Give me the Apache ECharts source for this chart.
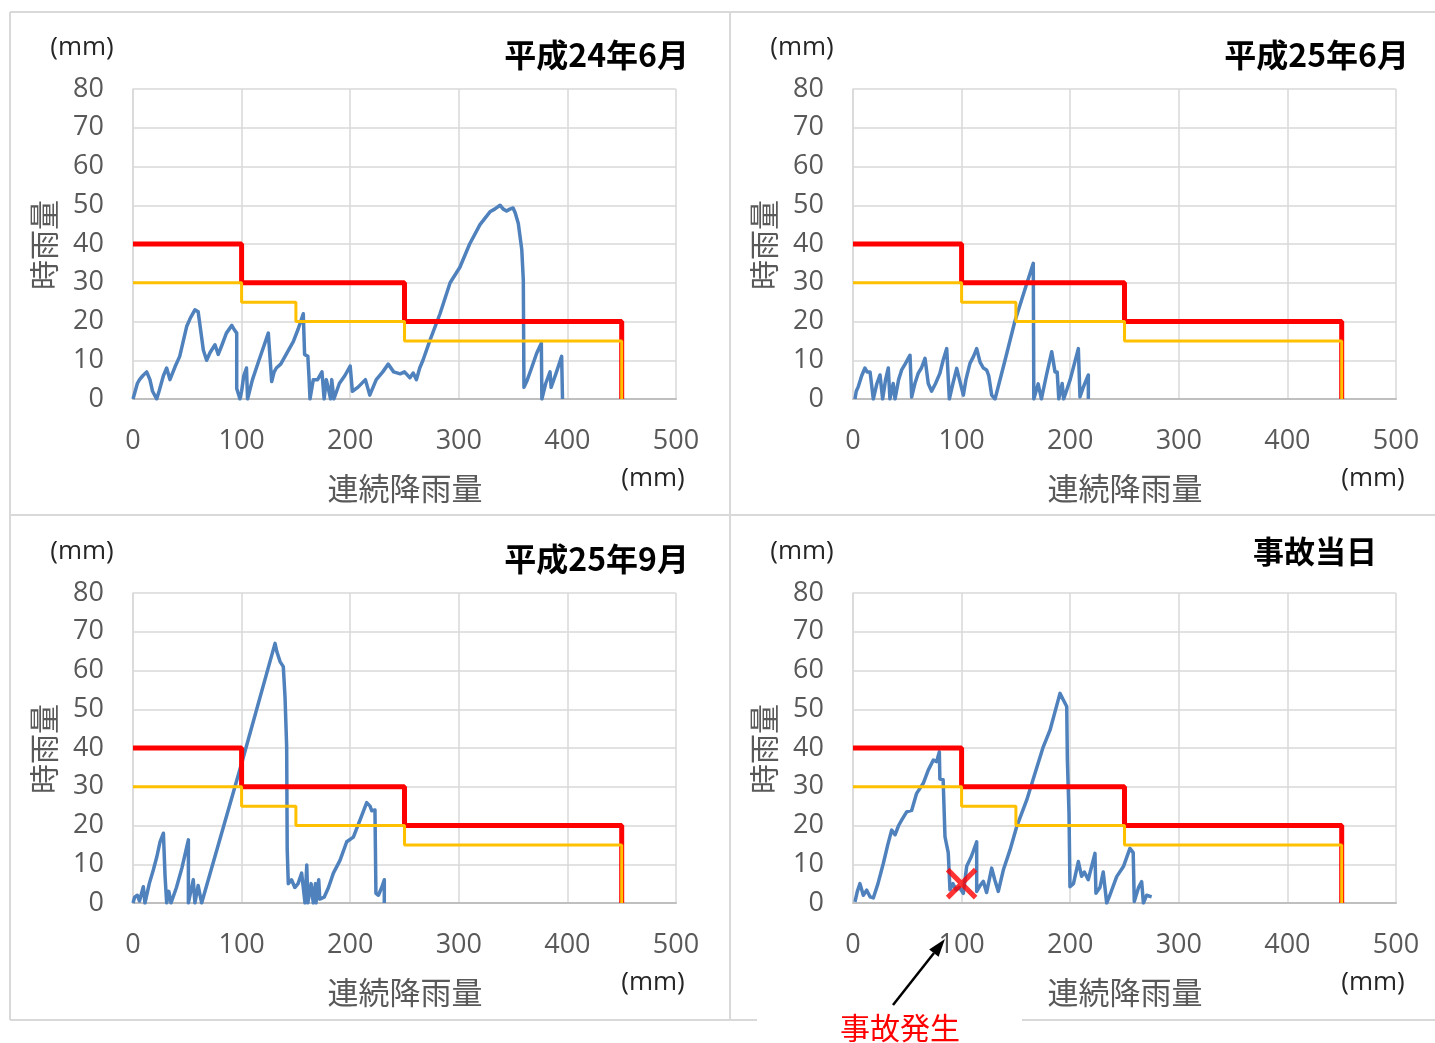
<!DOCTYPE html>
<html>
<head>
<meta charset="utf-8">
<script src="https://cdn.jsdelivr.net/npm/echarts@6/dist/echarts.min.js"></script>
<style>
html,body{margin:0;padding:0;background:#fff;}
#main{width:1435px;height:1043px;}
</style>
</head>
<body>
<div id="main"></div>
<script>
// ---- Data ----
const titles = ['平成24年6月', '平成25年6月', '平成25年9月', '事故当日'];
const xTicks = [0, 100, 200, 300, 400, 500];
const yTicks = [0, 10, 20, 30, 40, 50, 60, 70, 80];

// Threshold step lines (連続降雨量, 時雨量)
const redX = [0, 100, 100, 250, 250, 450, 450];
const redY = [40, 40, 30, 30, 20, 20, 0];
const yelX = [0, 100, 100, 150, 150, 250, 250, 450, 450];
const yelY = [30, 30, 25, 25, 20, 20, 15, 15, 0];

// 平成24年6月
const p1X = [0,2,4,6,9,12.6,15.6,18,21.8,24,28,31,34,38.7,43,49.4,53,57,60,61,64.8,67.8,71,75.5,78.5,82,86,91,93,95.5,95.5,98.5,100,102,104.5,105.5,110,116,124.6,127.7,130,132,136,140,147.6,152,156.8,158,161,162,163,166,170,174,176,178,182,183,185,190,195,200,202,207,214,218,224,230,235,240,246,250,255,258,261,264,267,273.5,282.7,292,301,310,319.5,328.7,333,338,341,344,347,350,352,354.8,358,359.4,360,362.5,367,371.7,376,376.5,380,384,385,390,394.7,395.5];
const p1Y = [0,2,4,5,6,7,5,2,0,2,6,8,5,8.3,11,18.7,21,23,22.5,22,12.6,10,12,14,11.5,14,17,19,18,17,2.7,0,2,6,8,0,5,10,17,4.5,7,8,9,11,14.8,18,22,11.5,11,6,0,5,5,7,0,5,0,5,0,4,6,8.5,2,3,5,1,5,7,9,7,6.5,7,5.5,6.7,5,8,10,15.2,22,30,34,40,45,48.3,49,50,49,48.5,49,49.3,48,45.3,38.5,30.7,3,4.5,8,11.8,14.4,0,4,7,3,7,11,0];

// 平成25年6月
const p2X = [1.8,3,4.9,8,11,13,15.7,18.7,22,24.9,27.3,30,32.5,34,37,38.7,42,44.8,48,52.5,54,57,60,63,66.3,69.3,72.4,76,80,83,86.3,88.7,92,95.5,98.5,101.6,104,107.7,111,113.9,117,120,123,125,127.7,130.8,140,149,158,166,166.5,170.5,173.5,178,183,186,188,189.5,192.6,194,200,207.5,209,212,216.7,216.7];
const p2Y = [0,2,3.2,6,8,7,7,0,4,6.2,0,5,8,0,4,0,5,7.5,9,11.3,0.5,4,6.6,8,10.5,4,2,4,6.6,10,13,0,4,7.9,4.5,1,5,9.2,11,13,9.5,8,7.5,6,1,0,10,20,28,35,0,3.9,0,6,12.2,7,7,0,4,0,5,13,0.5,3,6.2,0];

// 平成25年9月
const p3X = [0,1.5,4,6,9.5,11,15,18.7,22,24.9,28,29.5,31,33,35,40,45,51,51,55.5,57,60,63.2,100,130.8,132.3,135.4,138.4,140,141.5,142,143,146,149,152,155.3,158.4,160,161,164,166,168,168.5,171,172,176,180,184.5,190.6,196.8,202.9,209,215.2,218.3,219.8,222.8,223.7,226,229,231.4,231.4];
const p3Y = [0,1.5,2,0.5,4.2,0,5,8.5,12,15.8,18,7,0,3,0,4,9,16.3,0,6,0,4.5,0,36,67,65,62.3,61,53,40.3,13.7,5,6,4,5,7.7,0,9.8,0,5,0,5,0,6,1,1.5,4,7.7,11,15.8,17,21.4,25.9,25,23.8,24,2.5,2,4,6,0];

// 事故当日
const p4X = [1.8,4,6.4,9.5,12.6,15.7,18.7,23,27.9,32,35.6,38.7,42,44.8,49.4,54,58.6,64.7,69.3,74,77,79.5,80,83,84.7,87.7,89.3,92,95,98,101.6,104.7,109,113.9,113.9,117,120,123,127.7,130.5,133.8,138.4,144.6,150.7,160,167.6,175.2,181.4,190.6,193.7,196.8,197.4,198.9,199.8,203,207.5,210.5,213,216.6,222.8,223.7,227.4,230.4,233.6,236.5,242.8,249,255,258,259,262.8,265.8,267.4,270.4,275];
const p4Y = [0.3,3,5,2,3.3,1.6,1.3,5,10.2,15,18.8,17.6,20,21.4,23.5,23.9,28.3,30.9,34.3,36.9,36.5,39,32,31.8,17.1,13,3.4,5,3.4,4,2.5,9.5,12,15.8,3,4.5,5.6,2.7,9,6,3,8.5,13.7,19.7,26.6,33.5,40.3,44.6,54.1,52.4,50.7,36.9,23.1,4.2,5,10.7,6.9,8,6,12.8,2.5,4,8,0,2,6.8,9.4,14.1,13,0.4,3.9,5.5,0,2,1.6];

// Accident point
const accidentX = [100];
const accidentY = [5];

// ---- Build chart ----
const blueX = [p1X, p2X, p3X, p4X];
const blueY = [p1Y, p2Y, p3Y, p4Y];
const grids = [
  {left: 133, top: 89},
  {left: 853, top: 89},
  {left: 133, top: 593},
  {left: 853, top: 593}
];
const pair = (xs, ys) => xs.map((x, i) => [x, ys[i]]);

const LABEL_FONT = '"Open Sans", "Noto Sans", sans-serif';
const CJK_FONT = '"Noto Sans CJK JP", sans-serif';

const option = {
  animation: false,
  backgroundColor: '#fff',
  grid: grids.map(g => ({left: g.left, top: g.top, width: 543, height: 310, containLabel: false})),
  xAxis: grids.map((g, i) => ({
    gridIndex: i, type: 'value', min: 0, max: 500, interval: 100,
    axisLine: {show: true, lineStyle: {color: '#bfbfbf', width: 2}},
    axisTick: {show: false},
    splitLine: {show: true, lineStyle: {color: '#d9d9d9', width: 1.5}},
    axisLabel: {color: '#595959', fontSize: 27, fontFamily: LABEL_FONT, margin: 29,
      formatter: v => xTicks.includes(v) ? String(v) : ''}
  })),
  yAxis: grids.map((g, i) => ({
    gridIndex: i, type: 'value', min: 0, max: 80, interval: 10,
    axisLine: {show: true, lineStyle: {color: '#d9d9d9', width: 1.5}},
    axisTick: {show: false},
    splitLine: {show: true, lineStyle: {color: '#d9d9d9', width: 1.5}},
    axisLabel: {color: '#595959', fontSize: 27, fontFamily: LABEL_FONT, margin: 29,
      formatter: v => yTicks.includes(v) ? String(v) : ''}
  })),
  series: [],
  graphic: []
};

for (let i = 0; i < 4; i++) {
  option.series.push({
    type: 'line', xAxisIndex: i, yAxisIndex: i, data: pair(blueX[i], blueY[i]),
    showSymbol: false, symbol: 'none', lineStyle: {color: '#4f81bd', width: 3.5, join: 'round'}, z: 2
  });
  option.series.push({
    type: 'line', xAxisIndex: i, yAxisIndex: i, data: pair(redX, redY),
    showSymbol: false, symbol: 'none', lineStyle: {color: '#ff0000', width: 5}, z: 3
  });
  option.series.push({
    type: 'line', xAxisIndex: i, yAxisIndex: i, data: pair(yelX, yelY),
    showSymbol: false, symbol: 'none', lineStyle: {color: '#ffc000', width: 3}, z: 4
  });
}
option.series.push({
  type: 'scatter', xAxisIndex: 3, yAxisIndex: 3, data: pair(accidentX, accidentY),
  symbol: 'path://M0,0 L10,10 M10,0 L0,10', symbolSize: 28,
  itemStyle: {color: 'none', borderColor: '#ff0000', borderWidth: 5}, z: 10
});

// Panel borders
const G = option.graphic;
const borderStyle = {stroke: '#d9d9d9', lineWidth: 2};
const lines = [
  [10, 12, 1435, 12], [10, 515, 1435, 515], [10, 1020, 1435, 1020],
  [10, 12, 10, 1020], [730, 12, 730, 1020]
];
lines.forEach(l => G.push({type: 'line', shape: {x1: l[0], y1: l[1], x2: l[2], y2: l[3]}, style: borderStyle, z: 0}));
// white patch behind annotation
G.push({type: 'rect', shape: {x: 757, y: 1008, width: 265, height: 35}, style: {fill: '#fff'}, z: 1});

// Texts per panel
const offs = [[0, 0], [720, 0], [0, 504], [720, 504]];
offs.forEach((o, i) => {
  const dx = o[0], dy = o[1];
  G.push({type: 'text', x: 82 + dx, y: 48 + dy, style: {text: '(mm)', fontSize: 26, fontFamily: LABEL_FONT, fill: '#262626', align: 'center', verticalAlign: 'middle'}, z: 5});
  G.push({type: 'text', x: 653 + dx, y: 479 + dy, style: {text: '(mm)', fontSize: 26, fontFamily: LABEL_FONT, fill: '#262626', align: 'center', verticalAlign: 'middle'}, z: 5});
  G.push({type: 'text', x: 405 + dx, y: 488 + dy, style: {text: '連続降雨量', fontSize: 31, fontFamily: CJK_FONT, fill: '#595959', align: 'center', verticalAlign: 'middle'}, z: 5});
  G.push({type: 'text', x: 44 + dx, y: 245 + dy, rotation: Math.PI / 2, style: {text: '時雨量', fontSize: 30, fontFamily: CJK_FONT, fill: '#595959', align: 'center', verticalAlign: 'middle'}, z: 5});
  if (i < 3) {
    G.push({type: 'text', x: 689 + dx, y: 55 + dy, style: {text: titles[i], fontSize: 32, fontWeight: 'bold', fontFamily: CJK_FONT, fill: '#000', align: 'right', verticalAlign: 'middle'}, z: 5});
  } else {
    G.push({type: 'text', x: 1377, y: 551, style: {text: titles[i], fontSize: 31, fontWeight: 'bold', fontFamily: CJK_FONT, fill: '#000', align: 'right', verticalAlign: 'middle'}, z: 5});
  }
});

// Arrow annotation
G.push({type: 'line', shape: {x1: 893, y1: 1005, x2: 934, y2: 953}, style: {stroke: '#000', lineWidth: 2.5}, z: 6});
G.push({type: 'polygon', shape: {points: [[945, 939], [938.6, 956.8], [929.2, 949.4]]}, style: {fill: '#000'}, z: 6});
G.push({type: 'text', x: 900, y: 1028, style: {text: '事故発生', fontSize: 30, fontFamily: CJK_FONT, fill: '#ff0000', align: 'center', verticalAlign: 'middle'}, z: 6});

const chart = echarts.init(document.getElementById('main'), null, {renderer: 'canvas'});
chart.setOption(option);
</script>
</body>
</html>
